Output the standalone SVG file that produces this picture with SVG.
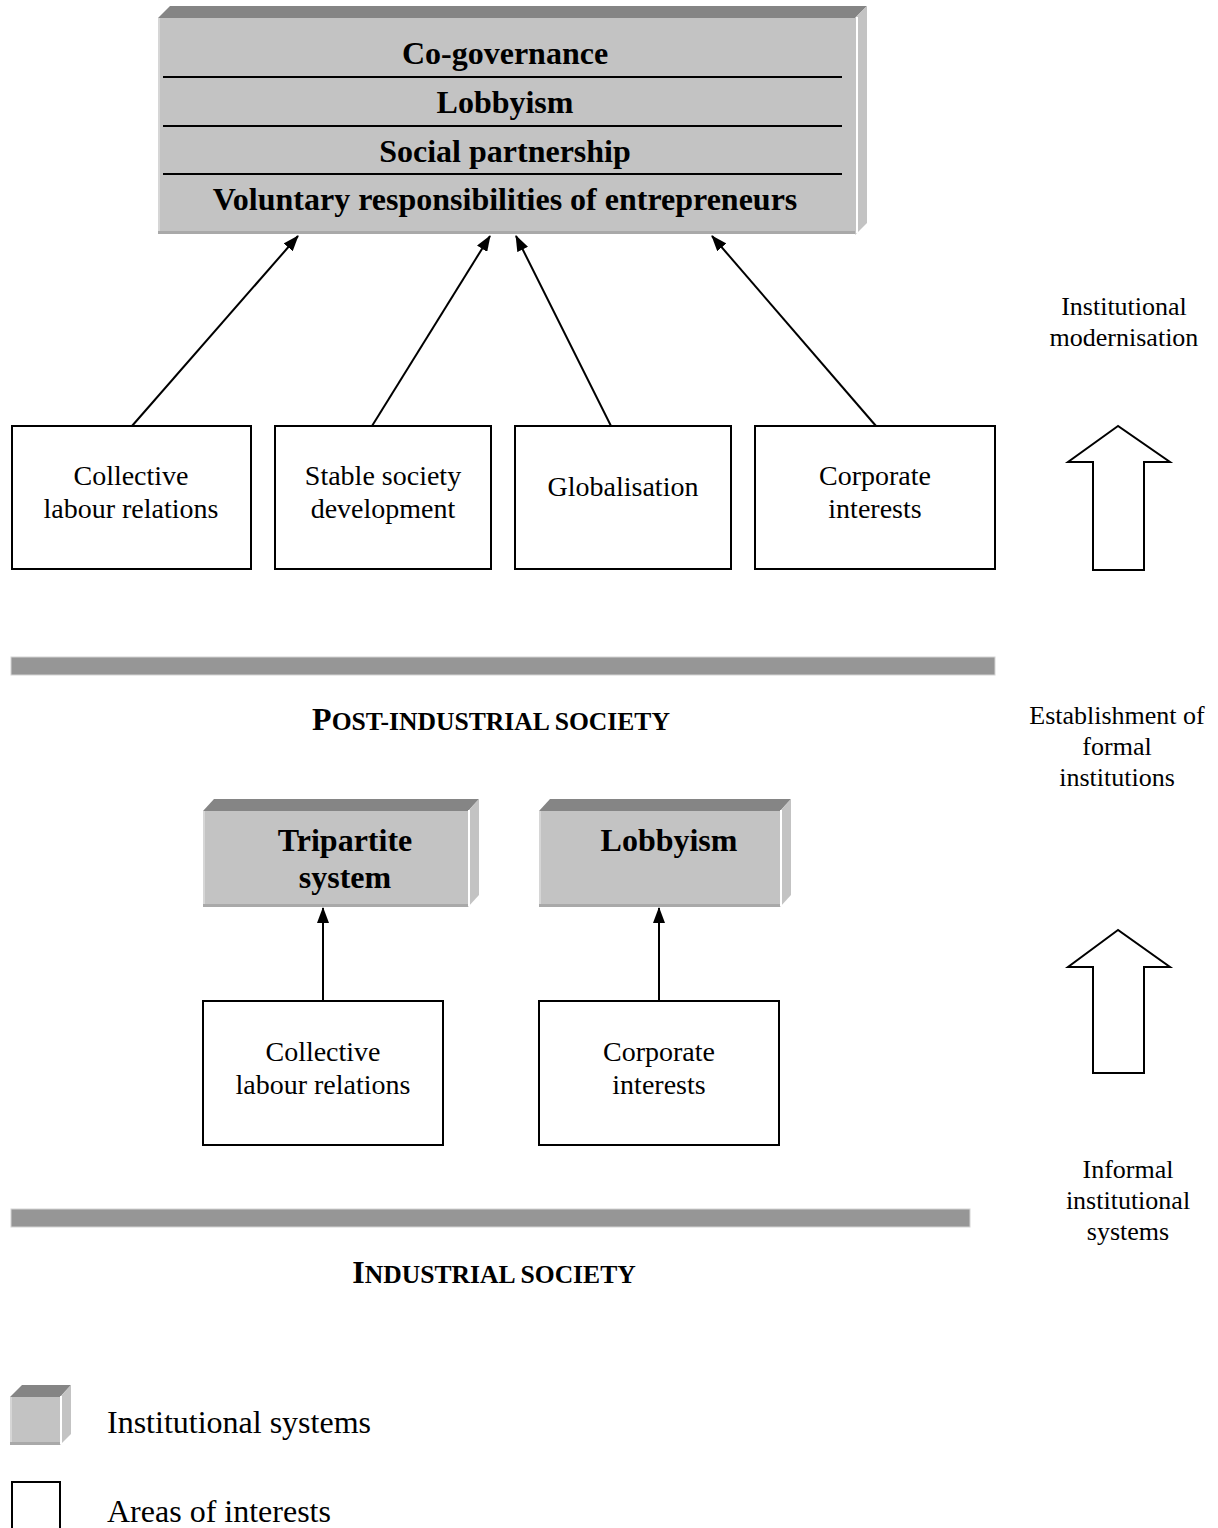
<svg xmlns="http://www.w3.org/2000/svg" width="1218" height="1528" viewBox="0 0 1218 1528">
<style>
.bevel{fill:#858585}
.face{fill:#c3c3c3}
.side{fill:#c3c3c3}
.hl{stroke:#ffffff;stroke-width:2}
.ledge{fill:#d6d6d6}
.bedge{fill:#a9a9a9}
.box{fill:#ffffff;stroke:#000;stroke-width:2}
.bt{font-family:"Liberation Serif","Times New Roman",serif;font-weight:bold;font-size:32px;text-anchor:middle;fill:#000}
.nt{font-family:"Liberation Serif","Times New Roman",serif;font-size:28px;text-anchor:middle;fill:#000}
.rt{font-family:"Liberation Serif","Times New Roman",serif;font-size:26px;text-anchor:middle;fill:#000}
.lt{font-family:"Liberation Serif","Times New Roman",serif;font-size:32px;fill:#000}
.sc{font-family:"Liberation Serif","Times New Roman",serif;font-weight:bold;font-size:32px;text-anchor:middle;fill:#000}
.conn{stroke:#000;stroke-width:2;fill:none}
.bar{fill:#969696;stroke:#d4d4d4;stroke-width:1}
.sep{stroke:#000;stroke-width:2}
.barrow{fill:#fff;stroke:#000;stroke-width:2;stroke-linejoin:miter}
</style>
<defs>
<marker id="ah" viewBox="0 0 16 12" refX="15" refY="6" markerWidth="16" markerHeight="12" markerUnits="userSpaceOnUse" orient="auto">
<path d="M0,0 L16,6 L0,12 Z" fill="#000"/>
</marker>
</defs>
<rect width="1218" height="1528" fill="#fff"/>

<g id="top-institutions">
<polygon class="bevel" points="158,18 170,6 867,6 855,18"/>
<polygon class="side" points="855,18 867,6 867,223 855,235"/>
<line class="hl" x1="857" y1="17" x2="857" y2="233"/>
<rect class="face" x="158" y="18" width="697" height="216"/>
<rect class="ledge" x="158" y="18" width="2" height="216"/>
<rect class="bedge" x="158" y="231" width="697" height="3"/>
<line class="sep" x1="163" y1="77" x2="842" y2="77"/>
<line class="sep" x1="163" y1="126" x2="842" y2="126"/>
<line class="sep" x1="163" y1="174" x2="842" y2="174"/>
<text class="bt" x="505" y="64">Co-governance</text>
<text class="bt" x="505" y="113">Lobbyism</text>
<text class="bt" x="505" y="162">Social partnership</text>
<text class="bt" x="505" y="210">Voluntary responsibilities of entrepreneurs</text>
</g>

<g id="pi-collective">
<rect class="box" x="12" y="426" width="239" height="143"/>
<text class="nt" x="131" y="485">Collective</text>
<text class="nt" x="131" y="518">labour relations</text>
</g>
<g id="pi-stable">
<rect class="box" x="275" y="426" width="216" height="143"/>
<text class="nt" x="383" y="485">Stable society</text>
<text class="nt" x="383" y="518">development</text>
</g>
<g id="pi-globalisation">
<rect class="box" x="515" y="426" width="216" height="143"/>
<text class="nt" x="623" y="496">Globalisation</text>
</g>
<g id="pi-corporate">
<rect class="box" x="755" y="426" width="240" height="143"/>
<text class="nt" x="875" y="485">Corporate</text>
<text class="nt" x="875" y="518">interests</text>
</g>

<g id="connectors">
<line class="conn" x1="132" y1="426" x2="298" y2="236" marker-end="url(#ah)"/>
<line class="conn" x1="372" y1="426" x2="490" y2="236" marker-end="url(#ah)"/>
<line class="conn" x1="611" y1="426" x2="516" y2="236" marker-end="url(#ah)"/>
<line class="conn" x1="876" y1="426" x2="712" y2="236" marker-end="url(#ah)"/>
<line class="conn" x1="323" y1="1000" x2="323" y2="908" marker-end="url(#ah)"/>
<line class="conn" x1="659" y1="1000" x2="659" y2="908" marker-end="url(#ah)"/>
</g>

<g id="block-arrow-1">
<polygon class="barrow" points="1118,426 1068,462 1093,462 1093,570 1144,570 1144,462 1170,462"/>
</g>
<g id="block-arrow-2">
<polygon class="barrow" points="1118,930 1068,967 1093,967 1093,1073 1144,1073 1144,967 1170,967"/>
</g>

<g id="label-modernisation">
<text class="rt" x="1124" y="315">Institutional</text>
<text class="rt" x="1124" y="346">modernisation</text>
</g>
<g id="label-establishment">
<text class="rt" x="1117" y="724">Establishment of</text>
<text class="rt" x="1117" y="755">formal</text>
<text class="rt" x="1117" y="786">institutions</text>
</g>
<g id="label-informal">
<text class="rt" x="1128" y="1178">Informal</text>
<text class="rt" x="1128" y="1209">institutional</text>
<text class="rt" x="1128" y="1240">systems</text>
</g>

<g id="bar-postindustrial">
<rect class="bar" x="11" y="657" width="984" height="18"/>
<text class="sc" x="491" y="730">P<tspan font-size="25.6">OST-INDUSTRIAL SOCIETY</tspan></text>
</g>

<g id="ind-tripartite">
<polygon class="bevel" points="203,811 214,799 479,799 468,811"/>
<polygon class="side" points="468,811 479,799 479,895 468,907"/>
<line class="hl" x1="469" y1="810" x2="469" y2="906"/>
<rect class="face" x="203" y="811" width="265" height="96"/>
<rect class="ledge" x="203" y="811" width="2" height="96"/>
<rect class="bedge" x="203" y="904" width="265" height="3"/>
<text class="bt" x="345" y="851">Tripartite</text>
<text class="bt" x="345" y="888">system</text>
</g>
<g id="ind-lobbyism">
<polygon class="bevel" points="539,811 550,799 791,799 780,811"/>
<polygon class="side" points="780,811 791,799 791,895 780,907"/>
<line class="hl" x1="781" y1="810" x2="781" y2="906"/>
<rect class="face" x="539" y="811" width="241" height="96"/>
<rect class="ledge" x="539" y="811" width="2" height="96"/>
<rect class="bedge" x="539" y="904" width="241" height="3"/>
<text class="bt" x="669" y="851">Lobbyism</text>
</g>

<g id="ind-collective">
<rect class="box" x="203" y="1001" width="240" height="144"/>
<text class="nt" x="323" y="1061">Collective</text>
<text class="nt" x="323" y="1094">labour relations</text>
</g>
<g id="ind-corporate">
<rect class="box" x="539" y="1001" width="240" height="144"/>
<text class="nt" x="659" y="1061">Corporate</text>
<text class="nt" x="659" y="1094">interests</text>
</g>

<g id="bar-industrial">
<rect class="bar" x="11" y="1209" width="959" height="18"/>
<text class="sc" x="494" y="1283">I<tspan font-size="25.6">NDUSTRIAL SOCIETY</tspan></text>
</g>

<g id="legend">
<polygon class="bevel" points="10,1397 22,1385 71,1385 60,1397"/>
<polygon class="side" points="60,1397 71,1385 71,1434 60,1445"/>
<line class="hl" x1="61" y1="1396" x2="61" y2="1444"/>
<rect class="face" x="10" y="1397" width="50" height="48"/>
<rect class="ledge" x="10" y="1397" width="2" height="48"/>
<rect class="bedge" x="10" y="1442" width="50" height="3"/>
<text class="lt" x="107" y="1433">Institutional systems</text>
<rect class="box" x="12" y="1482" width="48" height="50"/>
<text class="lt" x="107" y="1522">Areas of interests</text>
</g>
</svg>
